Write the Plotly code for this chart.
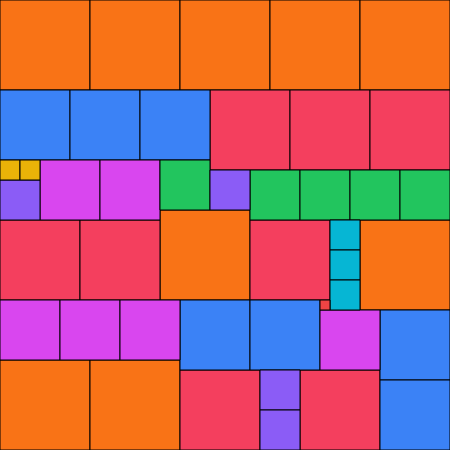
import plotly.graph_objects as go

# Partridge tiling: size k appears k times, corner position (x, y) from the top-left
SIZES = [9, 8, 7, 6, 5, 4, 3, 2, 1]
COLORS = ["#F97316", "#F43F5E", "#3B82F6", "#D946EF", "#22C55E",
          "#8B5CF6", "#06B6D4", "#EAB308", "#EF4444"]

x9 = [0, 9, 18, 27, 36, 16, 36, 0, 9]
y9 = [0, 0, 0, 0, 0, 21, 22, 36, 36]
x8 = [21, 29, 37, 0, 8, 25, 18, 30]
y8 = [9, 9, 9, 22, 22, 22, 37, 37]
x7 = [0, 7, 14, 18, 25, 38, 38]
y7 = [9, 9, 9, 30, 30, 31, 38]
x6 = [4, 10, 0, 6, 12, 32]
y6 = [16, 16, 30, 30, 30, 31]
x5 = [16, 25, 30, 35, 40]
y5 = [16, 17, 17, 17, 17]
x4 = [0, 21, 26, 26]
y4 = [18, 17, 37, 41]
x3 = [33, 33, 33]
y3 = [22, 25, 28]
x2 = [0, 2]
y2 = [16, 16]
x1 = [32]
y1 = [30]

XS = [x9, x8, x7, x6, x5, x4, x3, x2, x1]
YS = [y9, y8, y7, y6, y5, y4, y3, y2, y1]

fig = go.Figure()
for size, color, xs, ys in zip(SIZES, COLORS, XS, YS):
    fig.add_trace(go.Bar(
        x=[x + size / 2 for x in xs],
        y=[size] * len(xs),
        base=ys,
        width=[size] * len(xs),
        marker=dict(color=color, line=dict(color="black", width=1)),
        hoverinfo="skip",
        showlegend=False,
    ))

fig.update_layout(
    width=450, height=450,
    margin=dict(l=0, r=0, t=0, b=0),
    barmode="overlay",
    paper_bgcolor="white", plot_bgcolor="white",
    xaxis=dict(range=[0, 45], visible=False, fixedrange=True),
    yaxis=dict(range=[45, 0], visible=False, fixedrange=True),
)
fig.write_html("out.html", config={"displayModeBar": False},
               post_script="document.body.style.margin='0';document.body.style.overflow='hidden';")
